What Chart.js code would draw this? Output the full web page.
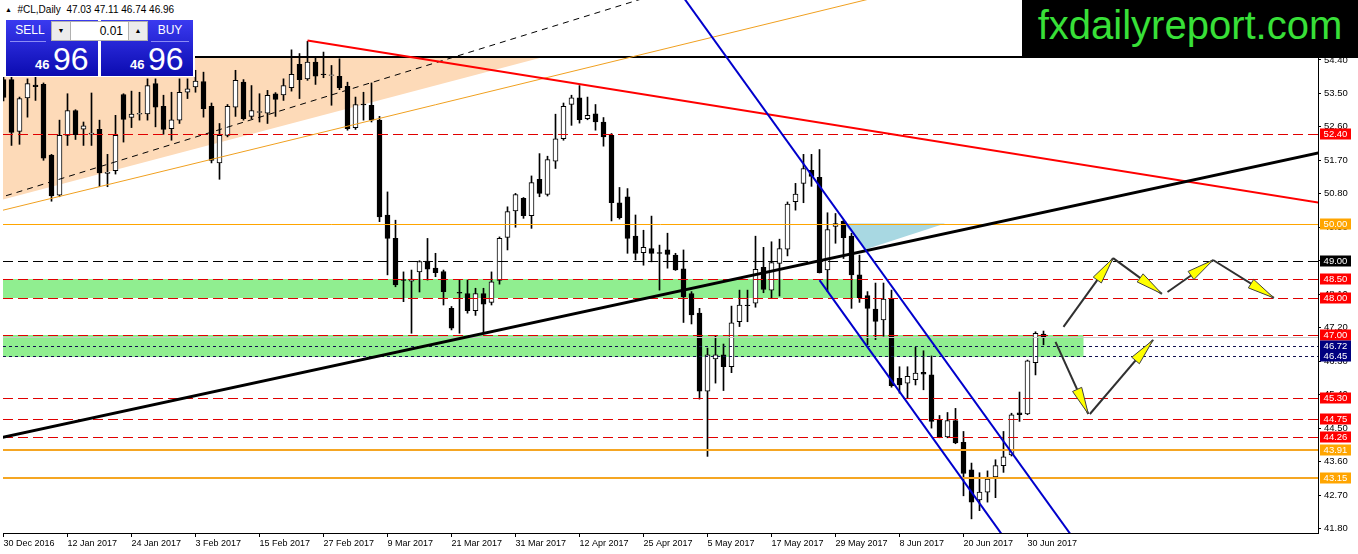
<!DOCTYPE html>
<html><head><meta charset="utf-8">
<script src="https://cdn.jsdelivr.net/npm/chart.js@4.4.1/dist/chart.umd.min.js"></script>
<style>
html,body{margin:0;padding:0;background:#fff;overflow:hidden}
#wrap{position:relative;width:1358px;height:554px;font-family:'Liberation Sans',Arial,sans-serif;background:#fff}
#c{position:absolute;left:0;top:0}
#panel{position:absolute;left:0;top:0;width:195px;height:77px;background:#fff}
#ttl{position:absolute;left:5px;top:4px;font-size:10px;color:#000;white-space:pre;line-height:12px}
#ttl .tri{font-size:7px;vertical-align:1px}
.blk{position:absolute;top:20px;width:92px;height:56px;background:linear-gradient(#3a3af0,#0b0bb0)}
.btn{position:absolute;top:20px;width:44px;height:21px;line-height:21px;color:#fff;font-size:12px;text-align:center}
.ul{position:absolute;top:41px;height:1px;background:#8c8cf5}
#dn,#up{position:absolute;top:21px;width:18px;height:18px;background:#ececec;border:1px solid #b0b0b0;font-size:7px;line-height:18px;text-align:center;color:#000}
#lot{position:absolute;left:71px;top:21px;width:52px;height:18px;padding-right:5px;background:#fff;border-top:1px solid #b0b0b0;border-bottom:1px solid #b0b0b0;font-size:12px;line-height:18px;text-align:right;color:#000}
.s{position:absolute;top:58px;font-size:13px;font-weight:bold;color:#fff;line-height:13px}
.b{position:absolute;top:43px;font-size:32px;color:#fff;line-height:32px}
#brand{position:absolute;left:1022px;top:0;width:336px;height:58px;background:#000;color:#38e038;font-size:40px;line-height:50px;text-align:center}
</style></head><body>
<div id="wrap">
<canvas id="c" width="1358" height="554"></canvas>
<div id="panel">
  <div id="ttl"><span class="tri">▲</span>  #CL,Daily  47.03 47.11 46.74 46.96</div>
  <div class="blk" style="left:6px"></div>
  <div class="blk" style="left:101px"></div>
  <div class="btn" style="left:8px">SELL</div>
  <div class="btn" style="left:148px">BUY</div>
  <div class="ul" style="left:10px;width:36px"></div>
  <div class="ul" style="left:151px;width:38px"></div>
  <div id="dn" style="left:51px">▼</div>
  <div id="lot">0.01</div>
  <div id="up" style="left:128px">▲</div>
  <span class="s" style="left:35px">46</span><span class="b" style="left:53px">96</span>
  <span class="s" style="left:130px">46</span><span class="b" style="left:148px">96</span>
</div>
<div id="brand">fxdailyreport.com</div>
</div>
<script>
// ---------- data ----------
const dates = ["30 Dec 2016","3 Jan 2017","4 Jan 2017","5 Jan 2017","6 Jan 2017","9 Jan 2017","10 Jan 2017","11 Jan 2017","12 Jan 2017","13 Jan 2017",
"16 Jan 2017","17 Jan 2017","18 Jan 2017","19 Jan 2017","20 Jan 2017","23 Jan 2017","24 Jan 2017","25 Jan 2017","26 Jan 2017","27 Jan 2017",
"30 Jan 2017","31 Jan 2017","1 Feb 2017","2 Feb 2017","3 Feb 2017","6 Feb 2017","7 Feb 2017","8 Feb 2017","9 Feb 2017","10 Feb 2017",
"13 Feb 2017","14 Feb 2017","15 Feb 2017","16 Feb 2017","17 Feb 2017","20 Feb 2017","21 Feb 2017","22 Feb 2017","23 Feb 2017","24 Feb 2017",
"27 Feb 2017","28 Feb 2017","1 Mar 2017","2 Mar 2017","3 Mar 2017","6 Mar 2017","7 Mar 2017","8 Mar 2017","9 Mar 2017","10 Mar 2017",
"13 Mar 2017","14 Mar 2017","15 Mar 2017","16 Mar 2017","17 Mar 2017","20 Mar 2017","21 Mar 2017","22 Mar 2017","23 Mar 2017","24 Mar 2017",
"27 Mar 2017","28 Mar 2017","29 Mar 2017","30 Mar 2017","31 Mar 2017","3 Apr 2017","4 Apr 2017","5 Apr 2017","6 Apr 2017","7 Apr 2017",
"10 Apr 2017","11 Apr 2017","12 Apr 2017","13 Apr 2017","17 Apr 2017","18 Apr 2017","19 Apr 2017","20 Apr 2017","21 Apr 2017","24 Apr 2017",
"25 Apr 2017","26 Apr 2017","27 Apr 2017","28 Apr 2017","1 May 2017","2 May 2017","3 May 2017","4 May 2017","5 May 2017","8 May 2017",
"9 May 2017","10 May 2017","11 May 2017","12 May 2017","15 May 2017","16 May 2017","17 May 2017","18 May 2017","19 May 2017","22 May 2017",
"23 May 2017","24 May 2017","25 May 2017","26 May 2017","29 May 2017","30 May 2017","31 May 2017","1 Jun 2017","2 Jun 2017","5 Jun 2017",
"6 Jun 2017","7 Jun 2017","8 Jun 2017","9 Jun 2017","12 Jun 2017","13 Jun 2017","14 Jun 2017","15 Jun 2017","16 Jun 2017","19 Jun 2017",
"20 Jun 2017","21 Jun 2017","22 Jun 2017","23 Jun 2017","26 Jun 2017","27 Jun 2017","28 Jun 2017","29 Jun 2017","30 Jun 2017","3 Jul 2017",
"5 Jul 2017"];

const opens = [53.87,53.87,52.48,53.38,53.72,53.74,51.84,50.76,52.37,53.04,
52.54,52.40,52.53,51.35,51.42,53.47,52.85,52.94,52.95,53.76,
53.15,52.55,52.78,53.53,53.67,53.82,53.15,51.63,52.37,53.13,
53.80,52.88,52.99,52.97,53.49,53.46,53.65,54.28,53.89,54.34,
54.02,53.98,53.96,53.69,52.58,53.21,53.18,52.78,50.23,49.60,
48.49,48.45,48.70,48.99,48.80,48.71,47.72,48.15,48.12,47.66,
48.12,47.88,48.47,49.63,50.34,50.68,50.21,51.19,50.78,51.68,
52.28,53.20,53.38,52.82,52.95,52.73,52.37,50.56,50.72,49.66,
49.22,49.33,49.22,49.29,49.15,48.78,48.12,47.59,45.49,46.36,
46.47,46.15,47.36,47.81,47.86,48.82,48.21,48.93,49.31,50.59,
51.08,51.43,51.24,48.75,49.92,50.06,49.66,48.62,48.06,47.70,
47.41,47.97,45.84,45.71,45.80,46.00,45.93,44.72,44.26,44.70,
44.12,43.38,42.57,42.78,43.19,43.49,43.78,44.91,44.88,46.26,
47.03];
const highs = [54.00,53.95,53.40,53.89,53.94,53.78,51.86,52.78,53.49,53.06,
52.73,53.51,52.78,51.86,52.91,53.49,53.56,53.53,53.89,53.89,
53.45,53.53,53.89,53.89,54.12,54.07,53.24,52.69,53.20,54.12,
53.87,53.71,53.49,53.58,53.52,53.89,54.67,54.57,54.90,54.47,
54.61,54.25,54.43,53.80,53.40,53.53,53.78,52.88,50.85,50.09,
48.70,48.75,49.00,49.60,49.20,48.75,47.77,48.48,48.48,48.26,
48.26,48.70,49.64,50.45,50.81,50.70,51.28,51.88,51.81,52.94,
53.24,53.45,53.71,53.40,53.20,52.85,52.42,50.97,50.94,50.23,
49.82,50.20,49.42,49.74,49.20,49.29,48.17,47.72,46.65,46.98,
46.76,47.78,48.21,48.21,49.66,49.36,49.51,49.58,50.58,51.08,
51.86,51.86,51.99,50.29,50.27,50.09,49.74,49.15,48.17,48.40,
48.40,48.21,46.15,46.15,46.67,46.58,46.44,44.84,44.92,45.03,
44.41,43.56,43.30,43.35,43.65,44.41,44.90,45.47,46.33,47.09,
47.11];
const lows = [53.30,52.10,52.13,52.86,53.31,51.70,50.60,50.72,52.10,52.26,
52.10,52.10,50.99,50.99,51.33,52.19,52.58,52.78,52.78,52.60,
52.40,52.24,52.69,53.36,53.53,52.86,51.63,51.19,52.33,52.88,
52.78,52.82,52.73,52.69,52.88,53.31,53.56,53.36,53.85,53.74,
53.92,53.18,53.60,52.51,52.53,52.78,52.73,50.05,48.62,48.30,
47.90,47.05,48.16,48.48,48.57,47.81,47.14,47.05,47.59,47.53,
47.05,47.81,48.37,49.29,49.90,50.14,49.87,50.72,50.74,51.48,
52.24,52.64,52.70,52.79,52.51,52.08,50.07,50.12,49.20,49.02,
48.88,48.97,48.21,48.80,48.74,47.34,47.30,45.28,43.74,45.71,
45.51,45.99,47.23,47.36,47.75,48.14,47.99,48.05,49.13,50.36,
50.56,51.00,48.67,48.17,49.47,49.06,47.72,47.88,46.74,46.88,
46.97,45.60,45.44,45.31,45.66,45.53,44.50,44.24,44.24,44.08,
42.68,42.06,42.28,42.51,42.63,43.31,43.75,44.68,44.86,45.93,
46.74];
const closes = [53.39,52.45,53.36,53.76,53.68,51.76,50.74,52.37,53.04,52.39,
52.63,52.43,51.36,51.38,52.37,52.80,52.94,52.96,53.71,53.13,
52.53,52.79,53.53,53.62,53.83,53.09,51.70,52.37,53.15,53.85,
52.82,53.04,53.01,53.45,53.34,53.71,54.01,53.87,54.34,53.96,
54.00,54.00,53.65,52.55,53.20,53.19,52.78,50.18,49.60,48.35,
48.47,48.51,48.98,48.77,48.68,48.17,47.19,48.13,47.66,48.12,
47.83,48.43,49.60,50.32,50.78,50.21,51.10,50.81,51.72,52.28,
53.15,53.38,52.79,52.91,52.73,52.33,50.56,50.16,49.60,49.20,
49.36,49.20,49.20,49.17,48.75,48.03,47.54,45.49,46.47,46.47,
46.15,47.33,47.81,47.79,48.77,48.23,48.95,49.33,50.52,50.79,
51.48,51.27,48.68,49.84,50.00,49.62,48.62,48.01,47.72,47.37,
47.97,45.64,45.66,45.89,45.98,45.95,44.68,44.26,44.70,44.10,
43.28,42.51,42.78,43.13,43.49,43.73,44.86,44.86,46.31,47.05,
46.96];

const xTickLabels = ["30 Dec 2016","12 Jan 2017","24 Jan 2017","3 Feb 2017","15 Feb 2017","27 Feb 2017","9 Mar 2017","21 Mar 2017","31 Mar 2017","12 Apr 2017","25 Apr 2017","5 May 2017","17 May 2017","29 May 2017","8 Jun 2017","20 Jun 2017","30 Jun 2017"];
const yTicks = [41.80,42.70,43.60,44.50,45.40,46.30,47.20,48.10,49.00,49.90,50.80,51.70,52.60,53.50,54.40];
const yRange = [41.68, 56.01];
const xRange = [-0.0625, 164.3125];

// price levels (horizontal lines)
const topLevel = [54.48];
const redLevels = [52.40, 48.50, 48.00, 47.00, 45.30, 44.75, 44.26];
const orangeLevels = [50.00];
const orangeBoldLevels = [43.91, 43.15];
const pivotLevels = [49.00];
const bidLevels = [46.96];
const navyLevels = [46.72, 46.45];

// drawn objects in (bar index, price)
const peachTriangle = [[-0.5, 54.48], [-0.5, 50.62], [67.5, 54.48]];
const cyanTriangle = [[105.0, 50.00], [117.7, 50.00], [107.8, 49.31]];
const zoneUpper = [[-1, 48.50], [107.3, 48.00]];
const zoneLower = [[-1, 47.00], [135.0, 46.40]];
const redTrend = [[38, 54.92], [170, 50.37]];
const blackTrend = [[-1, 44.21], [170, 52.16]];
const dashedTrend = [[-1, 50.66], [90, 56.72]];
const orangeTrend = [[-1, 50.31], [110, 56.13]];
const channelUpper = [[80, 57.57], [140, 39.67]];
const channelLower = [[102, 48.48], [130, 40.08]];
const arrows = [
  [[132.5, 47.22], [138.7, 49.07]],
  [[138.7, 49.07], [144.8, 48.11]],
  [[145.5, 48.16], [151.2, 49.02]],
  [[151.2, 49.02], [158.8, 48.00]],
  [[131.5, 46.82], [135.6, 44.88]],
  [[135.8, 44.88], [143.7, 46.87]]
];

// ---------- chart ----------
const FONT_X = {family: "'Liberation Sans', Arial, sans-serif", size: 9};
const FONT_Y = {family: "'Liberation Sans', Arial, sans-serif", size: 9.5};

const mt4Plugin = {
  id: 'mt4',
  beforeDatasetsDraw(chart) {
    const {ctx, chartArea: a, scales: {x, y}} = chart;
    const P = p => [x.getPixelForValue(p[0]), y.getPixelForValue(p[1])];
    ctx.save();
    ctx.beginPath(); ctx.rect(a.left, a.top, a.width, a.height); ctx.clip();
    const poly = (pts, col) => {
      ctx.beginPath();
      pts.forEach((p, i) => { const q = P(p); i ? ctx.lineTo(q[0], q[1]) : ctx.moveTo(q[0], q[1]); });
      ctx.closePath(); ctx.fillStyle = col; ctx.fill();
    };
    const rect = (r, col) => {
      const p1 = P(r[0]), p2 = P(r[1]);
      ctx.fillStyle = col;
      ctx.fillRect(p1[0], Math.round(p1[1]), p2[0] - p1[0], Math.round(p2[1]) - Math.round(p1[1]));
    };
    poly(peachTriangle, '#FDDAB8');
    rect(zoneUpper, '#90EE90');
    rect(zoneLower, '#90EE90');
    poly(cyanTriangle, '#A8D8E2');
    ctx.restore();
  },
  afterDatasetsDraw(chart) {
    const {ctx, chartArea: a, scales: {x, y}} = chart;
    const P = p => [x.getPixelForValue(p[0]), y.getPixelForValue(p[1])];
    ctx.save();
    ctx.beginPath(); ctx.rect(a.left, a.top, a.width, a.height); ctx.clip();
    const hline = (v, col, w, dash) => {
      let py = y.getPixelForValue(v);
      py = w % 2 ? Math.round(py) + 0.5 : Math.round(py);
      ctx.beginPath(); ctx.setLineDash(dash); ctx.strokeStyle = col; ctx.lineWidth = w;
      ctx.moveTo(a.left, py); ctx.lineTo(a.right, py); ctx.stroke();
    };
    const seg = (s, col, w, dash) => {
      const p1 = P(s[0]), p2 = P(s[1]);
      ctx.beginPath(); ctx.setLineDash(dash || []); ctx.strokeStyle = col; ctx.lineWidth = w;
      ctx.moveTo(p1[0], p1[1]); ctx.lineTo(p2[0], p2[1]); ctx.stroke();
    };
    bidLevels.forEach(v => hline(v, '#C8C8C8', 1, []));
    navyLevels.forEach(v => hline(v, '#101050', 1, [3, 3]));
    redLevels.forEach(v => hline(v, '#E00000', 1, [10, 5]));
    pivotLevels.forEach(v => hline(v, '#000000', 1, [10, 5]));
    orangeLevels.forEach(v => hline(v, '#FFA500', 1, []));
    orangeBoldLevels.forEach(v => hline(v, '#F5A623', 2, []));
    topLevel.forEach(v => hline(v, '#000000', 2, []));
    seg(dashedTrend, '#000000', 1, [6, 5]);
    seg(orangeTrend, '#F0A020', 1);
    seg(redTrend, '#FF0000', 2);
    seg(blackTrend, '#000000', 3);
    seg(channelUpper, '#0000CC', 2);
    seg(channelLower, '#0000CC', 2);
    ctx.setLineDash([]);
    arrows.forEach(s => {
      const p1 = P(s[0]), p2 = P(s[1]);
      ctx.beginPath(); ctx.strokeStyle = '#303030'; ctx.lineWidth = 2;
      ctx.moveTo(p1[0], p1[1]); ctx.lineTo(p2[0], p2[1]); ctx.stroke();
      const ang = Math.atan2(p2[1] - p1[1], p2[0] - p1[0]);
      const L = 27, W = 5;
      const bx = p2[0] - L * Math.cos(ang), by = p2[1] - L * Math.sin(ang);
      const nx = -Math.sin(ang) * W, ny = Math.cos(ang) * W;
      ctx.beginPath();
      ctx.moveTo(p2[0], p2[1]); ctx.lineTo(bx + nx, by + ny); ctx.lineTo(bx - nx, by - ny); ctx.closePath();
      ctx.fillStyle = '#FFFF00'; ctx.fill();
      ctx.lineWidth = 1; ctx.strokeStyle = '#404040'; ctx.stroke();
    });
    ctx.restore();
  },
  afterDraw(chart) {
    const {ctx, chartArea: a, scales: {y}} = chart;
    ctx.save();
    ctx.font = "9.5px 'Liberation Sans', Arial, sans-serif";
    ctx.textAlign = 'center'; ctx.textBaseline = 'middle';
    const box = (v, col) => {
      const py = Math.round(y.getPixelForValue(v));
      ctx.fillStyle = col; ctx.fillRect(a.right + 2, py - 5.5, 31, 11);
      ctx.fillStyle = '#fff'; ctx.fillText(v.toFixed(2), a.right + 17.5, py + 0.5);
    };
    redLevels.forEach(v => box(v, '#FF0000'));
    orangeLevels.forEach(v => box(v, '#FFA500'));
    orangeBoldLevels.forEach(v => box(v, '#FFA500'));
    pivotLevels.forEach(v => box(v, '#000000'));
    navyLevels.forEach(v => box(v, '#000080'));
    ctx.restore();
  }
};

const bodyData = opens.map((o, i) => ({x: i, y: [o, closes[i]]}));
const wickData = lows.map((l, i) => ({x: i, y: [l, highs[i]]}));

new Chart(document.getElementById('c'), {
  type: 'bar',
  data: {
    datasets: [
      { label: 'body', data: bodyData, grouped: false, order: 0, barThickness: 5,
        backgroundColor: c => closes[c.dataIndex] >= opens[c.dataIndex] ? '#FFFFFF' : '#000000',
        borderColor: '#000000', borderWidth: 1, borderSkipped: false },
      { label: 'wick', data: wickData, grouped: false, order: 1, barThickness: 1,
        backgroundColor: '#000000', borderWidth: 0 }
    ]
  },
  options: {
    responsive: false, animation: false, devicePixelRatio: 1,
    layout: { padding: { left: 3, top: 0, right: 0, bottom: 0 } },
    plugins: { legend: { display: false }, tooltip: { enabled: false } },
    scales: {
      x: {
        type: 'linear', min: xRange[0], max: xRange[1], offset: false,
        afterBuildTicks: s => { s.ticks = xTickLabels.map(t => ({value: dates.indexOf(t)})); },
        afterFit: s => { s.height = 21; s.paddingLeft = 0; s.paddingRight = 0; },
        ticks: { autoSkip: false, maxRotation: 0, minRotation: 0, align: 'start', padding: 1, color: '#000', font: FONT_X,
          callback: v => dates[v] },
        grid: { drawOnChartArea: false, drawTicks: true, tickLength: 4, color: '#000', offset: false },
        border: { display: true, color: '#000', width: 1 }
      },
      y: {
        type: 'linear', position: 'right', min: yRange[0], max: yRange[1],
        afterBuildTicks: s => { s.ticks = yTicks.map(v => ({value: v})); },
        afterFit: s => { s.width = 40; s.paddingTop = 0; s.paddingBottom = 0; },
        ticks: { autoSkip: false, padding: 3, color: '#000', font: FONT_Y, callback: v => Number(v).toFixed(2) },
        grid: { drawOnChartArea: false, drawTicks: true, tickLength: 3, color: '#000' },
        border: { display: true, color: '#000', width: 1 }
      }
    }
  },
  plugins: [mt4Plugin]
});
</script>
</body></html>
